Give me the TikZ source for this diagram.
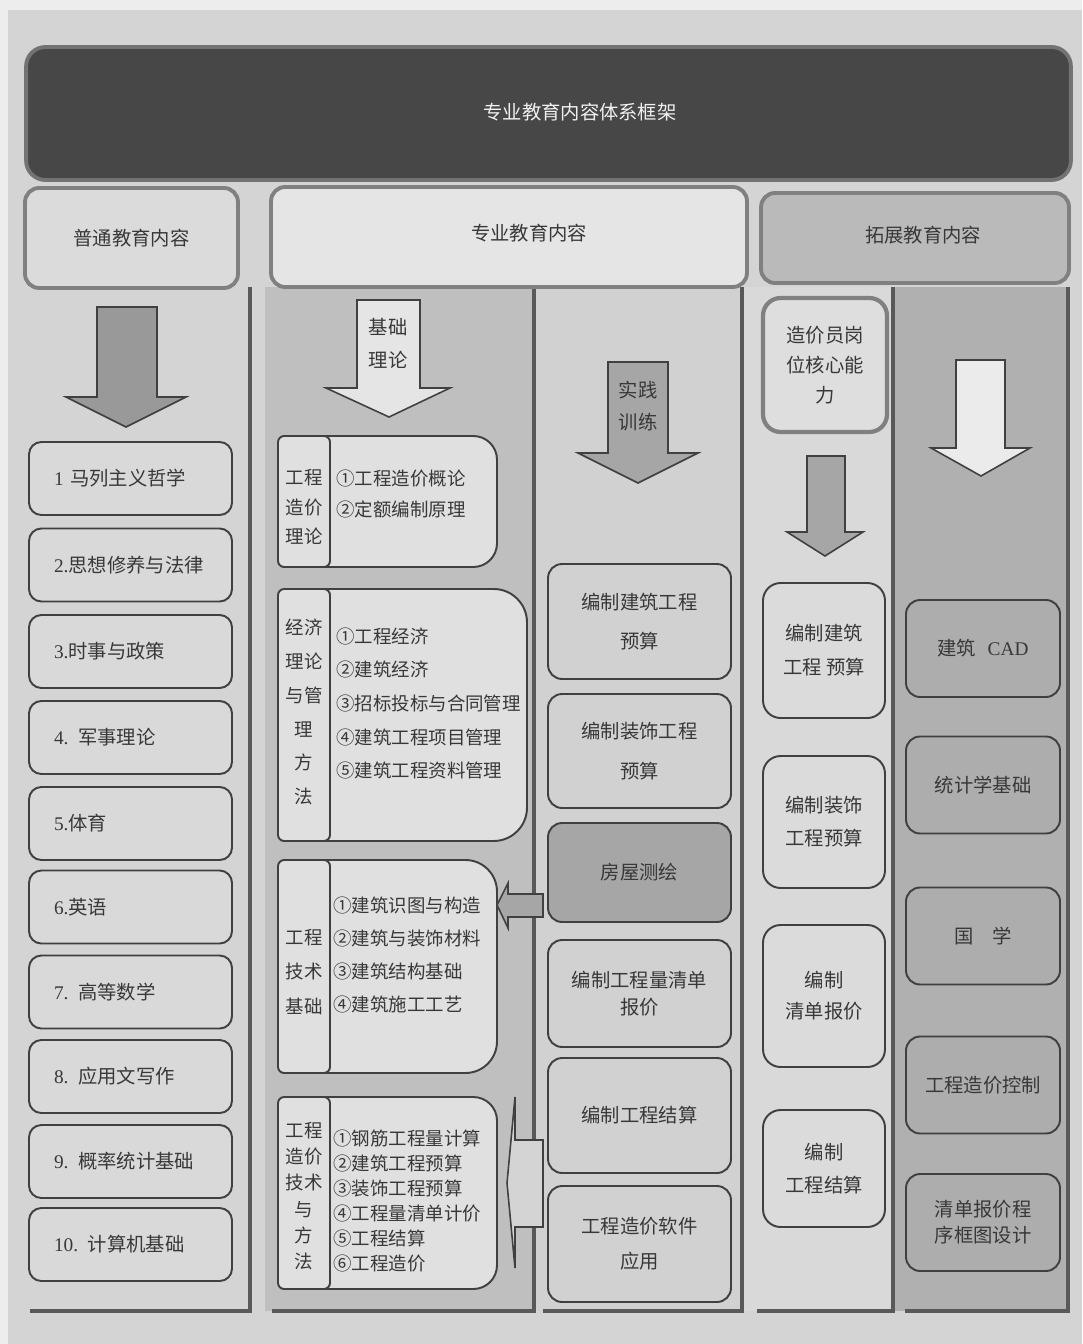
\documentclass[tikz,border=0pt]{standalone}
\usepackage{fontspec}
\newfontfamily\cjk{Noto Sans CJK SC}
\newfontfamily\lat{Liberation Serif}
\usetikzlibrary{positioning}
\tikzset{ibox/.style={draw=black!75,fill=black!15,rounded corners=7pt,line width=1.1pt,minimum width=4.06cm,minimum height=1.46cm,text width=3.06cm,inner xsep=0.5cm,align=left},
pbox/.style={draw=black!75,fill=black!18,rounded corners=8pt,line width=1.1pt,minimum width=3.66cm,align=center},
zbox/.style={draw=black!75,fill=black!14,rounded corners=10pt,line width=1.1pt,minimum width=2.44cm,align=center},
tbox/.style={draw=black!75,fill=black!32,rounded corners=8pt,line width=1.1pt,minimum width=3.08cm,minimum height=1.94cm,align=center},
hdbox/.style={draw=black!50,line width=2.2pt,rounded corners=8pt},
cbox/.style={draw=black!75,fill=black!12,line width=1.1pt},
lsp/.style={font=\cjk\fontsize{11}{#1}\selectfont,align=center},
isp/.style={font=\cjk\fontsize{10.5}{#1}\selectfont,align=left,anchor=west,inner sep=0pt},
blk/.style={draw=black!75,line width=0.9pt},
colline/.style={draw=black!65,line width=1.8pt}}
\begin{document}
\begin{tikzpicture}[x=0.02cm,y=-0.02cm,font=\cjk\fontsize{11}{13}\selectfont,text=black!78]
\useasboundingbox (0,0) rectangle (1082,1344);
\fill[black!7] (0,0) rectangle (1082,1344);
\fill[black!17] (8,10) rectangle (1082,1344);

% columns
\fill[black!25] (265,287) rectangle (534,1311);
\fill[black!18] (534,287) rectangle (742,1311);
\fill[black!15] (742,287) rectangle (893,1311);
\fill[black!31] (893,287) rectangle (1068,1311);
\draw[colline] (250,287)--(250,1311)--(30,1311);
\draw[colline] (534,287)--(534,1311)--(272,1311);
\draw[colline] (742,287)--(742,1311)--(543,1311);
\draw[colline] (893,287)--(893,1311)--(757,1311);
\draw[colline] (1068,287)--(1068,1311)--(905,1311);

% title and heads
\node[hdbox,fill=black!72,draw=black!55,minimum width=20.9cm,minimum height=2.66cm,rounded corners=11pt] (ttl) at (548.5,113.5) {};
\node[text=black!6] (ttltxt) at (580,112) {专业教育内容体系框架};
\node[hdbox,fill=black!14,minimum width=4.26cm,minimum height=2cm] (pthd) at (131.5,238) {普通教育内容};
\node[hdbox,fill=black!10,minimum width=9.52cm,minimum height=2cm] (zyhd) at (509,237) {};
\node (zytxt) at (529,233) {专业教育内容};
\node[hdbox,fill=black!27,minimum width=6.16cm,minimum height=1.8cm] (tzhd) at (915,238) {};
\node (tztxt) at (923,235) {拓展教育内容};

% general courses
\draw[blk,fill=black!40] (97,307)--(157,307)--(157,397)--(186,397)--(126,427)--(66,397)--(97,397)--cycle;
\node[ibox] (pt1) at (130.5,478.5) {{\lat 1} 马列主义哲学};
\node[ibox] (pt2) at (130.5,565) {{\lat 2.}思想修养与法律};
\node[ibox] (pt3) at (130.5,651.5) {{\lat 3.}时事与政策};
\node[ibox] (pt4) at (130.5,737.5) {{\lat 4.} 军事理论};
\node[ibox] (pt5) at (130.5,823.5) {{\lat 5.}体育};
\node[ibox] (pt6) at (130.5,907) {{\lat 6.}英语};
\node[ibox] (pt7) at (130.5,992) {{\lat 7.} 高等数学};
\node[ibox] (pt8) at (130.5,1076.5) {{\lat 8.} 应用文写作};
\node[ibox] (pt9) at (130.5,1161.5) {{\lat 9.} 概率统计基础};
\node[ibox] (pt10) at (130.5,1244.5) {{\lat 10.} 计算机基础};

% theory
\draw[blk,fill=black!10] (357,300)--(420,300)--(420,388)--(450,388)--(389,417)--(326,388)--(357,388)--cycle;
\node[lsp=18.8pt] (jcll) at (388,343.5) {基础\\理论};

\draw[cbox,rounded corners=13.5pt] (278,436) rectangle (497,567);
\draw[cbox,rounded corners=3.5pt] (278,436) rectangle (330,567);
\node[lsp=16.7pt,font=\cjk\fontsize{10.5}{16.7}\selectfont] (la) at (304,507) {工程\\造价\\理论};
\node[isp=18.1pt] (ia) at (336,494) {①工程造价概论\\②定额编制原理};

\draw[cbox,rounded corners=19pt] (278,589) rectangle (527,841);
\draw[cbox,rounded corners=3.5pt] (278,589) rectangle (330,841);
\node[lsp=19.3pt,font=\cjk\fontsize{10.5}{19.3}\selectfont] (lb) at (304,712) {经济\\理论\\与管\\理\\方\\法};
\node[isp=19.1pt] (ib) at (336,703.5) {①工程经济\\②建筑经济\\③招标投标与合同管理\\④建筑工程项目管理\\⑤建筑工程资料管理};

\draw[cbox,rounded corners=18pt] (278,860) rectangle (497,1073);
\draw[cbox,rounded corners=3.5pt] (278,860) rectangle (330,1073);
\node[lsp=19.8pt,font=\cjk\fontsize{10.5}{19.8}\selectfont] (lc) at (304,972) {工程\\技术\\基础};
\node[isp=18.9pt] (ic) at (333,955) {①建筑识图与构造\\②建筑与装饰材料\\③建筑结构基础\\④建筑施工工艺};

\draw[cbox,rounded corners=13.5pt] (278,1097) rectangle (497,1289);
\draw[cbox,rounded corners=3.5pt] (278,1097) rectangle (330,1289);
\node[lsp=15pt,font=\cjk\fontsize{10.5}{15}\selectfont] (ld) at (304,1196) {工程\\造价\\技术\\与\\方\\法};
\node[isp=14.3pt] (id) at (333,1201) {①钢筋工程量计算\\②建筑工程预算\\③装饰工程预算\\④工程量清单计价\\⑤工程结算\\⑥工程造价};

% practice
\draw[blk,fill=black!35] (608,362)--(668,362)--(668,453)--(698,453)--(638,483)--(578,453)--(608,453)--cycle;
\node[lsp=18pt] (sjxl) at (638,406) {实践\\训练};
\node[pbox,lsp=22pt,minimum height=2.3cm] (sj1) at (639.5,621.5) {编制建筑工程\\预算};
\node[pbox,lsp=22.7pt,minimum height=2.28cm] (sj2) at (639.5,751) {编制装饰工程\\预算};
\node[pbox,fill=black!35,minimum height=1.98cm] (sj3) at (639.5,872.5) {房屋测绘};
\node[pbox,lsp=15.4pt,minimum height=2.14cm] (sj4) at (639.5,993.5) {编制工程量清单\\报价};
\node[pbox,minimum height=2.3cm] (sj5) at (639.5,1115.5) {编制工程结算};
\node[pbox,lsp=20pt,minimum height=2.32cm] (sj6) at (639.5,1244) {工程造价软件\\应用};
\draw[blk,fill=black!35] (543,894)--(508,894)--(508,883)--(497,905)--(508,928)--(508,917)--(543,917)--cycle;
\draw[blk,fill=black!17] (543,1140)--(515,1140)--(515,1097)--(507,1183)--(515,1268)--(515,1227)--(543,1227)--cycle;

% core ability
\node[zbox,line width=2.4pt,draw=black!50,fill=black!13,lsp=17pt,minimum width=2.48cm,minimum height=2.68cm] (hx) at (825,365) {造价员岗\\位核心能\\力};
\draw[blk,fill=black!35] (807,456)--(845,456)--(845,532)--(863,532)--(825,556)--(787,532)--(807,532)--cycle;
\node[zbox,lsp=19.3pt,minimum height=2.7cm] (zj1) at (824,650.5) {编制建筑\\工程 预算};
\node[zbox,lsp=18.7pt,minimum height=2.64cm] (zj2) at (824,822) {编制装饰\\工程预算};
\node[zbox,lsp=17.6pt,minimum height=2.84cm] (zj3) at (824,996) {编制\\清单报价};
\node[zbox,lsp=18.7pt,minimum height=2.34cm] (zj4) at (824,1168.5) {编制\\工程结算};

% extension
\draw[blk,fill=black!8] (956,360)--(1005,360)--(1005,448)--(1030,448)--(981,476)--(931,448)--(956,448)--cycle;
\node[tbox] (tz1) at (983,648.5) {建筑\hspace{0.6em}{\lat CAD}};
\node[tbox] (tz2) at (983,785) {统计学基础};
\node[tbox] (tz3) at (983,936) {国\hspace{1em}学};
\node[tbox] (tz4) at (983,1085) {工程造价控制};
\node[tbox,lsp=14.8pt] (tz5) at (983,1222.5) {清单报价程\\序框图设计};

\end{tikzpicture}
\end{document}
